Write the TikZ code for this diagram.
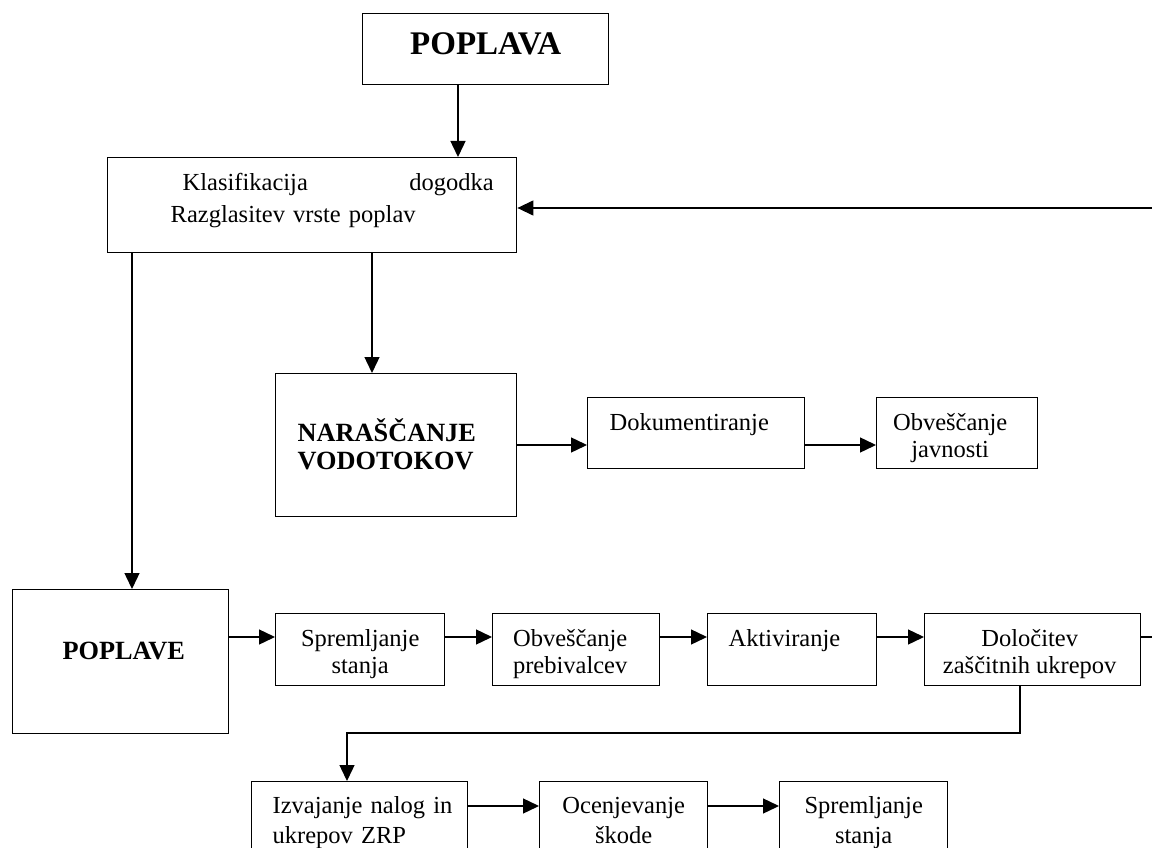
\documentclass[tikz,border=0pt]{standalone}
\usepackage{fontspec}
\setmainfont{Liberation Serif}
\usetikzlibrary{arrows.meta}
\newcommand\rows[3][c]{\begin{tabular}[t]{@{}#1@{}}#2\\#3\end{tabular}}
\newcommand\rowsw[3][c]{\begin{tabular}[t]{@{}#1@{}}#2\\[3pt]#3\end{tabular}}
\begin{document}
\begin{tikzpicture}[x=1pt,y=-1pt,
  bx/.style={draw, line width=1.4pt, rectangle, anchor=north west, inner sep=0pt,
             font=\fontsize{24.5}{27}\selectfont},
  bb/.style={bx, font=\fontsize{26.3}{28}\selectfont\bfseries},
  ln/.style={line width=1.4pt},
  arr/.style={ln, -{Triangle[length=16pt,width=15pt]}}]
\useasboundingbox (0,0) rectangle (1152,848);
\clip (0,0) rectangle (1152,848);

% boxes
\node[bb, font=\fontsize{33}{36}\selectfont\bfseries, minimum width=246pt, text height=41pt, text depth=30pt] (pop) at (362,13) {POPLAVA};
\node[bx, minimum width=409pt, text width=283pt, align=left, text height=33pt, text depth=62pt] (klas) at (107,157)
  {\begin{tabular}[t]{@{}l@{}}\hspace*{12pt}\makebox[311pt]{Klasifikacija\hfill dogodka}\\[5pt]Razglasitev vrste poplav\end{tabular}};
\node[bb, minimum width=241pt, text width=197pt, align=left, text height=67.7pt, text depth=75.3pt] (nar) at (275,373)
  {\rows[l]{NARAŠČANJE}{VODOTOKOV}};
\node[bx, minimum width=217pt, text width=173pt, align=left, text height=33pt, text depth=38pt] (dok) at (587,397) {Dokumentiranje};
\node[bx, minimum width=161pt, text height=33pt, text depth=38pt] (obvj) at (876,397) {\rows{Obveščanje}{javnosti}\hspace*{14pt}};

\node[bb, minimum width=216pt, text height=70pt, text depth=74pt] (poplave) at (12,589) {\hspace*{6pt}POPLAVE};
\node[bx, minimum width=169pt, text height=33pt, text depth=39pt] (spr1) at (275,613) {\rows{Spremljanje}{stanja}};
\node[bx, minimum width=167pt, text height=33pt, text depth=39pt] (obvp) at (492,613) {\rows{Obveščanje}{prebivalcev}\hspace*{12pt}};
\node[bx, minimum width=169pt, text width=127pt, align=left, text height=33pt, text depth=39pt] (akt) at (707,613) {Aktiviranje};
\node[bx, minimum width=216pt, text height=33pt, text depth=39pt] (dol) at (924,613) {\rows{Določitev}{zaščitnih ukrepov}\hspace*{6pt}};

\node[bx, minimum width=216pt, text width=174pt, align=left, text height=32pt, text depth=79pt] (izv) at (251,781)
  {\rowsw[l]{Izvajanje nalog in}{ukrepov ZRP}};
\node[bx, minimum width=168pt, text height=32pt, text depth=79pt] (ocen) at (539,781) {\rowsw{Ocenjevanje}{škode}};
\node[bx, minimum width=168pt, text height=32pt, text depth=79pt] (spr2) at (779,781) {\rowsw{Spremljanje}{stanja}};

% helper coordinates
\coordinate (a0) at (458,0);
\coordinate (a1) at (132,0);
\coordinate (a2) at (372,0);
\coordinate (rk) at (0,208);
\coordinate (r2) at (0,445);
\coordinate (r1) at (0,637);
\coordinate (r3) at (0,806);
\coordinate (rt) at (1164,0);
\coordinate (d1) at (1020,733);
\coordinate (d2) at (347,733);

% connectors
\draw[arr] (pop.south -| a0) -- (klas.north -| a0);
\draw[arr] (klas.south -| a1) -- (poplave.north -| a1);
\draw[arr] (klas.south -| a2) -- (nar.north -| a2);
\draw[arr] (nar.east |- r2) -- (dok.west |- r2);
\draw[arr] (dok.east |- r2) -- (obvj.west |- r2);
\draw[arr] (poplave.east |- r1) -- (spr1.west |- r1);
\draw[arr] (spr1.east |- r1) -- (obvp.west |- r1);
\draw[arr] (obvp.east |- r1) -- (akt.west |- r1);
\draw[arr] (akt.east |- r1) -- (dol.west |- r1);
\draw[arr] (dol.east |- r1) -- (rt |- r1) -- (rt |- rk) -- (klas.east |- rk);
\draw[arr] (dol.south -| d1) -- (d1) -- (d2) -- (izv.north -| d2);
\draw[arr] (izv.east |- r3) -- (ocen.west |- r3);
\draw[arr] (ocen.east |- r3) -- (spr2.west |- r3);
\end{tikzpicture}
\end{document}
